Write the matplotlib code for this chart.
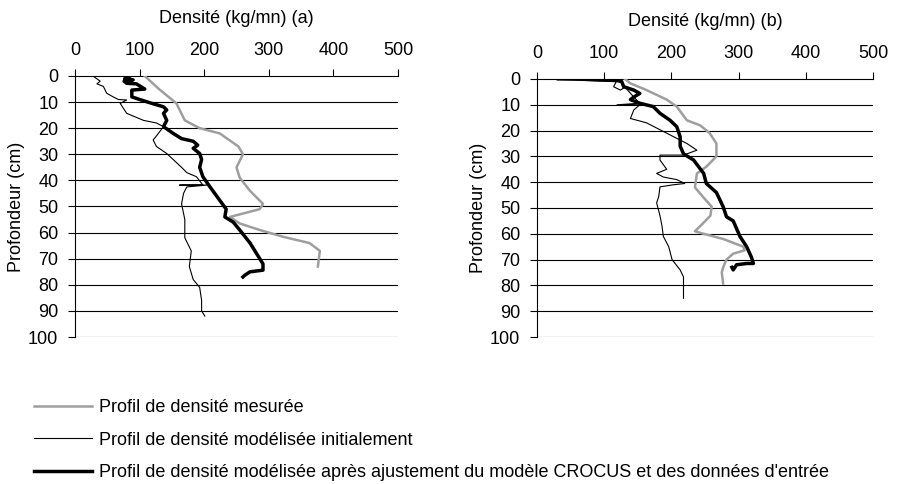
import matplotlib
matplotlib.use("Agg")
import matplotlib.pyplot as plt
import numpy as np

plt.rcParams['font.family'] = ['Liberation Sans', 'DejaVu Sans']

# (a) profils : densite (kg/mn), profondeur (cm)
a_mes_x = [108, 130, 157, 170, 193, 224, 253, 260, 250, 255, 271, 291, 286, 240, 255, 286, 322, 363, 379, 376]
a_mes_y = [0, 5, 10.5, 17, 20, 22, 27, 30, 35, 39, 44, 49, 51, 54, 56.5, 59, 61.6, 64, 67, 73]

a_ini_x = [28, 39, 34, 44, 49, 59, 67, 80, 70, 80, 106, 126, 137, 126, 121, 126, 142, 152, 165, 173, 188, 198,
           162, 204, 173, 168, 165, 170, 170, 180, 177, 183, 193, 196, 196, 201]
a_ini_y = [0, 2, 3, 4, 6.6, 8, 9, 9.2, 10.5, 14.3, 17, 18, 19.4, 23, 24.5, 27, 29.7, 32, 35, 37, 38.6, 41.8,
           41.8, 41.8, 42.5, 45, 49, 55, 62, 67, 73, 78, 81, 86, 90, 92]

a_adj_x = [85, 77, 90, 76, 80, 95, 108, 88, 88, 100, 119, 137, 142, 137, 142, 137, 152, 165, 183, 190, 183, 193,
           196, 193, 198, 209, 224, 234, 232, 245, 255, 271, 281, 291, 291, 271, 263, 260]
a_adj_y = [0, 1, 1.5, 2, 2.8, 3, 5, 5.4, 8, 9, 10.5, 11.8, 13, 14.3, 17, 19.4, 22, 24, 25, 26.5, 27.7, 29.7,
           32, 35, 38.6, 42.5, 47.6, 51, 54, 56, 59, 64, 68, 72, 74.4, 75, 76.3, 77]

# (b)
b_mes_x = [131, 139, 163, 193, 208, 223, 243, 257, 267, 267, 252, 238, 235, 248, 260, 258, 243, 235, 248, 277,
           307, 309, 292, 282, 277, 275, 277]
b_mes_y = [0, 1.7, 4.3, 8, 10.7, 16, 18, 21, 25, 30, 34, 36.6, 42, 46, 49.5, 53, 57, 59, 60, 62,
           65, 66.4, 67.7, 70, 73, 75, 79.3]

b_ini_x = [30, 75, 118, 114, 124, 129, 127, 144, 153, 119, 153, 144, 139, 163, 193, 223, 238, 218, 183, 183,
           193, 178, 188, 208, 220, 203, 183, 181, 178, 183, 186, 188, 196, 201, 213, 218, 218]
b_ini_y = [0.4, 0.6, 1, 3, 4.3, 3.5, 2, 7, 9.4, 10, 10, 12, 15.3, 17, 21, 25, 27.6, 29.5, 29.5, 31.4,
           35, 36.6, 38, 39, 40.5, 41, 41.8, 45.7, 48, 53, 57, 61, 65, 70, 74, 76.7, 85]

b_adj_x = [69, 119, 126, 129, 144, 153, 144, 139, 153, 173, 183, 198, 208, 213, 213, 218, 233, 248, 252, 267,
           277, 282, 292, 302, 312, 319, 322, 312, 297, 292, 290]
b_adj_y = [0.1, 0.6, 1, 3, 4.3, 5.6, 7, 8, 9.4, 10.7, 13.3, 16, 18.5, 22.4, 26, 29, 31.4, 36.6, 40.5, 44,
           49.5, 53.4, 55, 61, 65, 69, 71.5, 71.5, 72, 74, 73]

labels = ["Profil de densité mesurée",
          "Profil de densité modélisée initialement",
          "Profil de densité modélisée après ajustement du modèle CROCUS et des données d'entrée"]

fig = plt.figure(figsize=(8.97, 4.84), dpi=100)
ax_a = fig.add_axes([0.0836, 0.3037, 0.3601, 0.5393])
ax_b = fig.add_axes([0.5987, 0.3037, 0.3745, 0.5331])

panels = [(ax_a, a_mes_x, a_mes_y, a_ini_x, a_ini_y, a_adj_x, a_adj_y, "Densité (kg/mn) (a)"),
          (ax_b, b_mes_x, b_mes_y, b_ini_x, b_ini_y, b_adj_x, b_adj_y, "Densité (kg/mn) (b)")]

fs = 13
for ax, mx, my, ix, iy, jx, jy, title in panels:
    for d in range(10, 101, 10):
        ax.axhline(d, color='black', lw=0.8, zorder=1)
    l1, = ax.plot(mx, my, color='0.62', lw=1.8, zorder=3)
    l2, = ax.plot(ix, iy, color='black', lw=0.8, zorder=4)
    l3, = ax.plot(jx, jy, color='black', lw=2.5, zorder=5)
    ax.set_xlim(0, 500)
    ax.set_ylim(100, 0)
    ax.xaxis.tick_top()
    ax.xaxis.set_label_position('top')
    ax.set_xticks(np.arange(0, 501, 100))
    ax.set_yticks(np.arange(0, 101, 10))
    ax.tick_params(direction='out', length=5, width=0.8, labelsize=fs, pad=7)
    ax.set_xlabel(title, fontsize=fs, labelpad=14)
    ax.set_ylabel("Profondeur (cm)", fontsize=fs, labelpad=2)
    ax.spines['right'].set_visible(False)
    ax.spines['bottom'].set_visible(False)
    ax.spines['top'].set_linewidth(0.8)
    ax.spines['left'].set_linewidth(0.8)

fig.legend([l1, l2, l3], labels, loc='upper left', bbox_to_anchor=(0.03, 0.19),
           frameon=False, fontsize=fs, handlelength=3.2, handletextpad=0.4,
           labelspacing=0.85, borderaxespad=0)

fig.savefig("out.png", dpi=100)
